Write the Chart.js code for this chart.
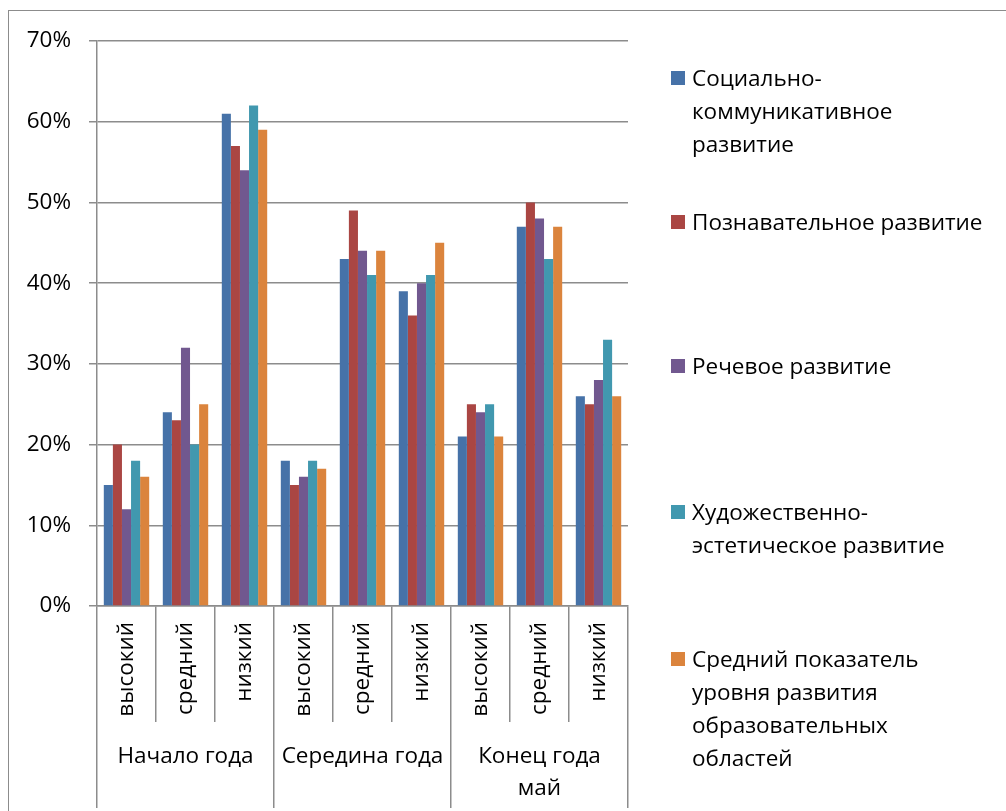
<!DOCTYPE html>
<html>
<head>
<meta charset="utf-8">
<script src="https://cdn.jsdelivr.net/npm/chart.js@4.4.0/dist/chart.umd.min.js"></script>
<style>
    body { margin: 0; background: #fff; }
    #wrap { position: relative; width: 1006px; height: 811px; overflow: hidden; font-family: 'Open Sans', sans-serif; }
    #frame { position: absolute; left: 8px; top: 10px; width: 1010px; height: 830px; border: 1.5px solid #8c8c8c; }
    #box { position: absolute; left: 0; top: 0; width: 1006px; height: 811px; }
    .item { position: absolute; left: 671px; font-size: 22.5px; line-height: 33px; color: #000; }
    .mark { position: absolute; left: 0; top: 10px; width: 14px; height: 14px; }
    .txt { margin-left: 21px; white-space: nowrap; }
</style>
</head>
<body>
<div id="wrap">
    <div id="frame"></div>
    <div id="box"><canvas id="barChart"></canvas></div>
    <div id="legend"></div>
</div>
<script>
// Уровни развития по образовательным областям (доля детей, %)
const categories = ['высокий', 'средний', 'низкий', 'высокий', 'средний', 'низкий', 'высокий', 'средний', 'низкий'];
const periods = ['Начало года', 'Середина года', ['Конец года', 'май']];

const social = [15, 24, 61, 18, 43, 39, 21, 47, 26];
const cognitive = [20, 23, 57, 15, 49, 36, 25, 50, 25];
const speech = [12, 32, 54, 16, 44, 40, 24, 48, 28];
const artistic = [18, 20, 62, 18, 41, 41, 25, 43, 33];
const average = [16, 25, 59, 17, 44, 45, 21, 47, 26];

const seriesNames = [
    ['Социально-', 'коммуникативное', 'развитие'],
    ['Познавательное развитие'],
    ['Речевое развитие'],
    ['Художественно-', 'эстетическое развитие'],
    ['Средний показатель', 'уровня развития', 'образовательных', 'областей']
];
const colors = ['#4672A8', '#AA4643', '#71588F', '#4198AF', '#DB843D'];
const yTicks = [0, 10, 20, 30, 40, 50, 60, 70];

// where each legend entry sits (first line centre)
const legendTops = [77, 221, 365, 511, 658];

const font = { family: "'Open Sans', sans-serif", size: 22.5 };
const axisGray = '#8c8c8c';

new Chart(document.getElementById('barChart'), {
    type: 'bar',
    data: {
        labels: categories,
        datasets: [social, cognitive, speech, artistic, average].map((d, i) => ({
            label: seriesNames[i].join(' '),
            data: d,
            backgroundColor: colors[i],
            borderWidth: 0,
            barPercentage: 1,
            categoryPercentage: 5 / 6.5
        }))
    },
    options: {
        responsive: true,
        maintainAspectRatio: false,
        animation: false,
        layout: { padding: { top: 41, right: 378, left: 0, bottom: 0 } },
        plugins: {
            legend: { display: false },
            tooltip: { enabled: false }
        },
        scales: {
            x: {
                weight: 0,
                offset: true,
                afterFit: (s) => { s.height = 116; },
                grid: { offset: true, drawOnChartArea: false, tickLength: 116, color: axisGray, lineWidth: 1.5 },
                border: { color: axisGray, width: 1.5 },
                ticks: { minRotation: 90, maxRotation: 90, autoSkip: false, padding: -100, color: '#000', font: font }
            },
            x2: {
                type: 'category',
                position: 'bottom',
                weight: 1,
                labels: periods,
                offset: true,
                afterFit: (s) => { s.height = 89; },
                grid: { offset: true, drawOnChartArea: false, tickLength: 86, color: axisGray, lineWidth: 1.5 },
                border: { display: false },
                ticks: { autoSkip: false, maxRotation: 0, padding: -67, color: '#000', font: { ...font, lineHeight: 32 / 22.5 } }
            },
            y: {
                min: 0,
                max: 70,
                afterFit: (s) => { s.width = 97; },
                afterBuildTicks: (s) => { s.ticks = yTicks.map(v => ({ value: v })); },
                grid: { color: axisGray, lineWidth: 1.5, tickLength: 8 },
                border: { color: axisGray, width: 1.5 },
                ticks: { padding: 18, color: '#000', font: font, callback: (v) => v + '%' }
            }
        }
    }
});

// legend on the right, built from the series names
const legend = document.getElementById('legend');
seriesNames.forEach((lines, i) => {
    const item = document.createElement('div');
    item.className = 'item';
    item.style.top = (legendTops[i] - 16.5) + 'px';
    item.innerHTML = '<div class="mark" style="background:' + colors[i] + '"></div>' +
        '<div class="txt">' + lines.join('<br>') + '</div>';
    legend.appendChild(item);
});
</script>
</body>
</html>
